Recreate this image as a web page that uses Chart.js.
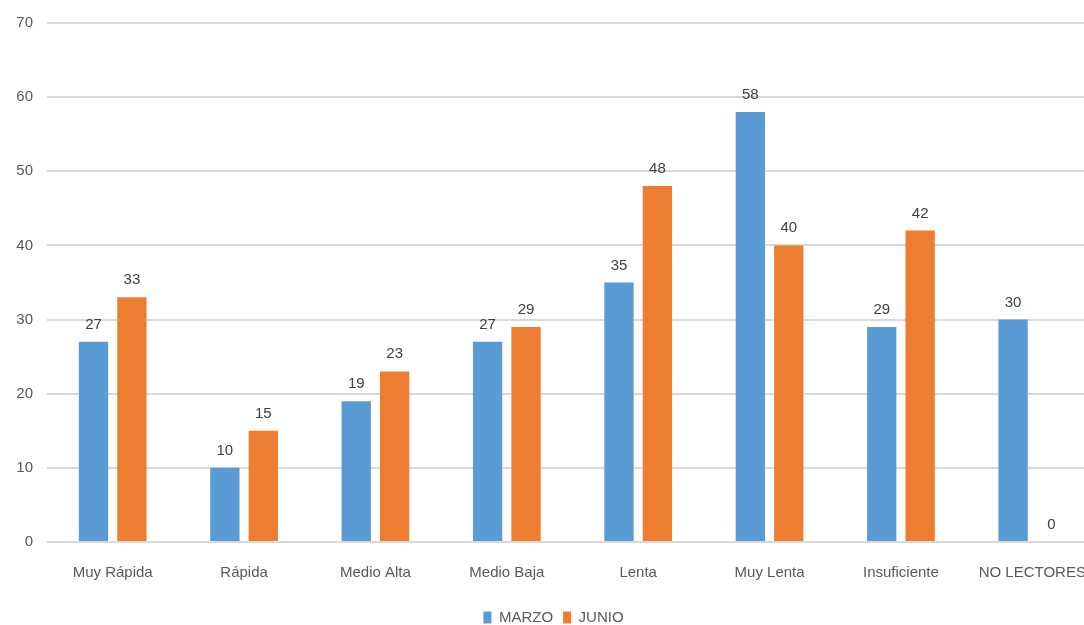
<!DOCTYPE html>
<html>
<head>
<meta charset="utf-8">
<script src="https://cdn.jsdelivr.net/npm/chart.js@4"></script>
<style>
  html, body { margin: 0; padding: 0; background: #fff; overflow: hidden; }
</style>
</head>
<body>
<canvas id="myChart" width="1108" height="625"></canvas>
<script>
const categories = ["Muy Rápida", "Rápida", "Medio Alta", "Medio Baja",
    "Lenta", "Muy Lenta", "Insuficiente", "NO LECTORES"];
const marzo = [27, 10, 19, 27, 35, 58, 29, 30];
const junio = [33, 15, 23, 29, 48, 40, 42, 0];
const yTicks = [0, 10, 20, 30, 40, 50, 60, 70];

const fontFamily = "'Liberation Sans', Arial, sans-serif";

// draws the value above each bar
const valueLabels = {
    id: 'valueLabels',
    afterDatasetsDraw(chart) {
        const c = chart.ctx;
        c.save();
        c.font = '15px ' + fontFamily;
        c.fillStyle = '#404040';
        c.textAlign = 'center';
        c.textBaseline = 'alphabetic';
        chart.data.datasets.forEach((ds, i) => {
            chart.getDatasetMeta(i).data.forEach((bar, j) => {
                c.fillText(String(ds.data[j]), bar.x, bar.y - 13);
            });
        });
        c.restore();
    }
};

const ctx = document.getElementById('myChart');
new Chart(ctx, {
    type: 'bar',
    data: {
        labels: categories,
        datasets: [{
            label: 'MARZO',
            data: marzo,
            backgroundColor: '#5B9BD5',
            categoryPercentage: 0.585,
            barPercentage: 0.763
        }, {
            label: 'JUNIO',
            data: junio,
            backgroundColor: '#ED7D31',
            categoryPercentage: 0.585,
            barPercentage: 0.763
        }]
    },
    options: {
        responsive: false,
        animation: false,
        layout: { padding: { top: 22, right: 1, left: 0, bottom: -10 } },
        plugins: {
            tooltip: { enabled: false },
            legend: {
                position: 'bottom',
                labels: {
                    boxWidth: 8,
                    boxHeight: 12,
                    padding: 10,
                    color: '#595959',
                    font: { size: 15, family: fontFamily }
                }
            }
        },
        scales: {
            x: {
                grid: { display: false, drawTicks: false },
                border: { display: false },
                ticks: {
                    color: '#595959',
                    padding: 22,
                    font: { size: 15, family: fontFamily }
                },
                afterFit(scale) { scale.height = 58; }
            },
            y: {
                min: 0,
                max: 70,
                afterBuildTicks(scale) {
                    scale.ticks = yTicks.map(v => ({ value: v }));
                },
                grid: { color: '#d9d9d9', lineWidth: 2, drawTicks: false },
                border: { display: false },
                ticks: {
                    color: '#595959',
                    padding: 14,
                    font: { size: 15, family: fontFamily }
                },
                afterFit(scale) { scale.width = 47; }
            }
        }
    },
    plugins: [valueLabels]
});
</script>
</body>
</html>
